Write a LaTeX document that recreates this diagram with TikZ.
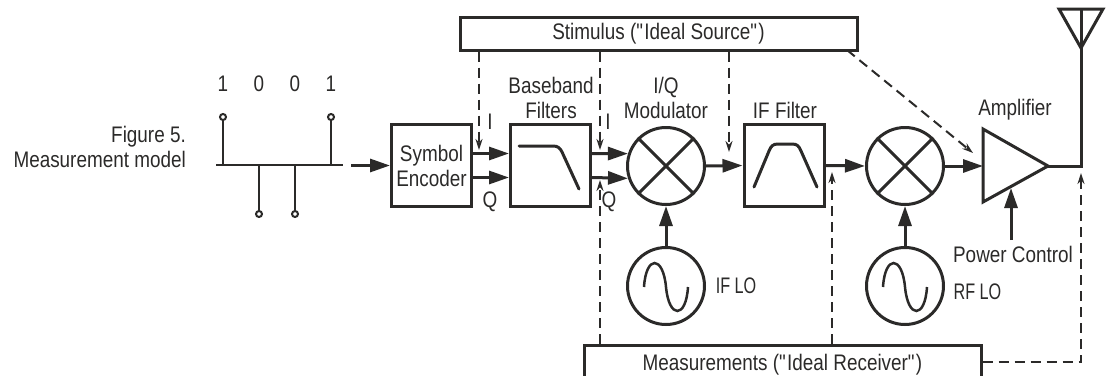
\documentclass[tikz,border=0pt]{standalone}
\usepackage{fontspec}
\setmainfont[FakeStretch=0.84]{Liberation Sans}
\newfontfamily\lofont[FakeStretch=0.72]{Liberation Sans}
\usetikzlibrary{arrows.meta}
\definecolor{inkgray}{HTML}{2B2A29}
\tikzset{
	sig/.style = {line width=3pt, color=inkgray, -{Triangle[length=20pt, width=13pt]}},
	probe/.style = {line width=2pt, color=inkgray, dash pattern=on 10pt off 6pt, -{Stealth[length=11pt, width=7pt]}},
	blockbox/.style = {draw=inkgray, line width=3pt, minimum width=80pt, minimum height=82pt, inner sep=0pt, align=center, font=\fontsize{22.5}{25}\selectfont, text=inkgray},
	barbox/.style = {draw=inkgray, line width=3pt, inner sep=0pt, font=\fontsize{22.5}{25}\selectfont, text=inkgray},
	mixer/.style = {draw=inkgray, circle, line width=3pt, minimum size=77pt, inner sep=0pt},
	lbl/.style = {inner sep=0pt, align=center, font=\fontsize{22.5}{25}\selectfont, text=inkgray},
	lolbl/.style = {inner sep=0pt, font=\fontsize{22.5}{25}\selectfont\lofont, text=inkgray},
	stemend/.style = {draw=inkgray, circle, line width=2pt, fill=white, minimum size=6pt, inner sep=0pt},
}
\begin{document}
\begin{tikzpicture}[x=1pt, y=-1pt]
	\useasboundingbox (0, 0) rectangle (1106, 375);
	\clip (0, 0) rectangle (1106, 375);

	% blocks
	\node[barbox, minimum width=397pt, minimum height=33pt] (stim) at (658.5, 33.5) {Stimulus (\textquotedbl Ideal Source\textquotedbl)};
	\node[barbox, minimum width=397pt, minimum height=40pt] (meas) at (782.5, 365) {Measurements (\textquotedbl Ideal Receiver\textquotedbl)};
	\node[blockbox] (symenc) at (431.5, 165.5) {Symbol\\Encoder};
	\node[blockbox] (bbfilt) at (550.5, 165.5) {};
	\node[blockbox] (iffilt) at (784, 165.5) {};
	\node[mixer] (mixa) at (666, 166) {};
	\node[mixer] (mixb) at (905, 166) {};
	\node[mixer] (ifosc) at (666, 286) {};
	\node[mixer] (rfosc) at (905, 286) {};

	% mixer crosses and filter curves
	\foreach \m in {mixa, mixb} {
		\draw[line width=3pt, inkgray] (\m.45) -- (\m.225);
		\draw[line width=3pt, inkgray] (\m.135) -- (\m.315);
	}
	\draw[line width=3pt, inkgray, line cap=round] (519, 146) -- (553, 146) .. controls (558, 146) and (560, 148) .. (562, 152) -- (579, 189);
	\draw[line width=3pt, inkgray, line cap=round] (754, 187) -- (769, 151) .. controls (771, 146) and (773, 144) .. (778, 144) -- (792, 144) .. controls (797, 144) and (799, 146) .. (801, 151) -- (817, 187);

	% oscillator waves
	\foreach \m in {ifosc, rfosc} {
		\draw[line width=2.5pt, inkgray] ([xshift=-22pt, yshift=-1pt]\m.center) .. controls ([xshift=-20pt, yshift=31pt]\m.center) and ([xshift=-3pt, yshift=31pt]\m.center) .. ([yshift=-1pt]\m.center) .. controls ([xshift=3pt, yshift=-33pt]\m.center) and ([xshift=20pt, yshift=-33pt]\m.center) .. ([xshift=22pt, yshift=-1pt]\m.center);
	}

	% amplifier and antenna
	\coordinate (ampin) at (983, 166);
	\coordinate (ampout) at (1048, 166);
	\coordinate (ampctl) at (1011, 188);
	\coordinate (antfoot) at (1081, 166);
	\coordinate (anttip) at (1081, 48);
	\coordinate (anttop) at (1081, 9);
	\draw[line width=3pt, inkgray, line join=miter] (983, 129) -- (983, 202) -- (ampout) -- cycle;
	\draw[line width=3pt, inkgray, line join=miter] (1059, 9) -- (1103, 9) -- (anttip) -- cycle;
	\draw[line width=3pt, inkgray, line join=miter] (ampout) -- (antfoot) -- (anttop);

	% bit stream
	\coordinate (bitl) at (216, 165);
	\coordinate (bitr) at (343, 165);
	\draw[line width=2pt, inkgray] (bitl) -- (bitr);
	\foreach \x/\y/\b [count=\i] in {223/117/1, 259/214/0, 295/214/0, 331/117/1} {
		\node[stemend] (end\i) at (\x, \y) {};
		\coordinate (foot\i) at (\x, 165);
		\draw[line width=2pt, inkgray] (foot\i) -- (end\i);
		\node[lbl] (bit\i) at (\x, 84) {\b};
	}

	% signal path
	\coordinate (bitout) at (351, 165.5);
	\draw[sig] (bitout) -- (symenc.west);
	\draw[sig] ([yshift=12pt]symenc.east) -- ([yshift=12pt]bbfilt.west);
	\draw[sig] ([yshift=-12pt]symenc.east) -- ([yshift=-12pt]bbfilt.west);
	\draw[sig] ([yshift=12pt]bbfilt.east) -- (mixa.162);
	\draw[sig] ([yshift=-12pt]bbfilt.east) -- (mixa.198);
	\draw[sig] (mixa.east) -- (iffilt.west);
	\draw[sig] (iffilt.east) -- (mixb.west);
	\draw[sig] (mixb.east) -- (ampin);
	\draw[sig] (ifosc.north) -- (mixa.south);
	\draw[sig] (rfosc.north) -- (mixb.south);
	\coordinate (pwrfoot) at (1011, 240);
	\draw[sig] (pwrfoot) -- (ampctl);

	% stimulus probes
	\coordinate (tapa) at (479, 150);
	\coordinate (tapb) at (600, 150);
	\coordinate (tapc) at (729, 152);
	\coordinate (tapd) at (973, 153);
	\coordinate (stimd) at (847, 50);
	\draw[probe] (tapa |- stim.south) -- (tapa);
	\draw[probe] (tapb |- stim.south) -- (tapb);
	\draw[probe] (tapc |- stim.south) -- (tapc);
	\draw[probe] (stimd) -- (tapd);

	% measurement probes
	\coordinate (tape) at (600, 180);
	\coordinate (tapf) at (832, 172);
	\coordinate (tapg) at (1081, 173);
	\draw[probe] (tape |- meas.north) -- (tape);
	\draw[probe] (tapf |- meas.north) -- (tapf);
	\draw[probe] (meas.east |- 0, 362) -| (tapg);

	% labels
	\node[lbl, anchor=east, align=right] (figcap) at (186, 147) {Figure 5.\\Measurement model};
	\node[lbl] (bbtext) at (551, 97.5) {Baseband\\Filters};
	\node[lbl] (iqtext) at (666, 97.5) {I/Q\\Modulator};
	\node[lbl] (iftext) at (785, 110) {IF Filter};
	\node[lbl] (amptext) at (1015, 110) {Amplifier};
	\node[lbl] (pwrtext) at (1013, 254) {Power Control};
	\node[lolbl] (iflo) at (736, 286) {IF LO};
	\node[lolbl] (rflo) at (977.5, 292) {RF LO};
	\node[lbl] (ia) at (490, 122) {I};
	\node[lbl] (qa) at (490, 202) {Q};
	\node[lbl] (ib) at (608, 122) {I};
	\node[lbl] (qb) at (609, 202) {Q};
\end{tikzpicture}
\end{document}
